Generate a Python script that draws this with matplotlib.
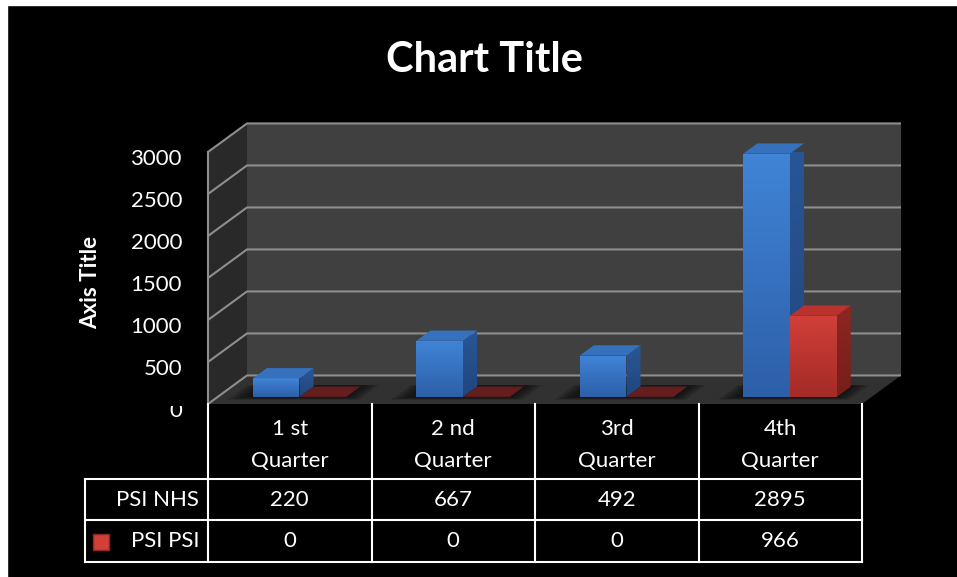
import numpy as np
import matplotlib.pyplot as plt
from matplotlib.colors import to_rgb
from matplotlib.patches import Polygon, Rectangle
from matplotlib.transforms import Bbox, TransformedBbox

plt.rcParams['font.family'] = ['Lato', 'DejaVu Sans']

# data
quarters = [("1 st", "Quarter"), ("2 nd", "Quarter"), ("3rd", "Quarter"), ("4th", "Quarter")]
series_names = ["PSI NHS", "PSI PSI"]
psi_nhs = [220, 667, 492, 2895]
psi_psi = [0, 0, 0, 966]
y_ticks = [0, 500, 1000, 1500, 2000, 2500, 3000]

# face colours: (front top, front bottom, side top, side bottom, top)
BLUE = ('#4084d6', '#2d5fa9', '#2a5696', '#21467e', '#3571bd')
RED = ('#d13f39', '#a42b27', '#8e2622', '#761e1b', '#b9322d')
ZERO_RED = '#651e1e'

W, H = 957, 577
DX, DY = 0.2385, 340.0      # depth of the plot box (category units, value units)
Z0, Z1 = 0.25, 0.61         # depth slab taken by the columns
GAP = 1.5                   # gap width as a fraction of column width

fig = plt.figure(figsize=(W / 100, H / 100), dpi=100, facecolor='black')
fig.patches.append(Rectangle((0, 0), 7 / W, 1, transform=fig.transFigure, color='white', zorder=-5))
fig.patches.append(Rectangle((0, 1 - 5 / H), 1, 5 / H, transform=fig.transFigure, color='white', zorder=-5))

ax = fig.add_axes([208 / W, (H - 404) / H, 654 / W, 252 / H])
ax.set_xlim(0, 4)
ax.set_ylim(0, 3000)
ax.axis('off')


def proj(x, v, z):
    return (x + z * DX, v + z * DY)


def face(pts, color, zorder, **kw):
    p = Polygon([proj(*q) for q in pts], closed=True, facecolor=color,
                edgecolor='none', zorder=zorder, clip_on=False, **kw)
    ax.add_patch(p)
    return p


def gradient_face(pts, c_top, c_bot, zorder):
    p = face(pts, 'none', zorder)
    xy = np.array([proj(*q) for q in pts])
    t = np.linspace(0, 1, 64)[:, None, None]
    c1, c2 = np.array(to_rgb(c_top)), np.array(to_rgb(c_bot))
    img = (c1 + (c2 - c1) * t) * np.ones((1, 2, 1))
    im = ax.imshow(img, extent=(xy[:, 0].min(), xy[:, 0].max(), xy[:, 1].min(), xy[:, 1].max()),
                   origin='upper', aspect='auto', zorder=zorder)
    im.set_clip_path(p)


# walls and floor
face([(0, 0, 1), (4, 0, 1), (4, 3000, 1), (0, 3000, 1)], '#404040', 0)
face([(0, 0, 0), (0, 0, 1), (0, 3000, 1), (0, 3000, 0)], '#292929', 0)
face([(0, 0, 0), (4, 0, 0), (4, 0, 1), (0, 0, 1)], '#313131', 0)

for v in y_ticks:
    xs, ys = zip(proj(0, v, 0), proj(0, v, 1), proj(4, v, 1))
    ax.plot(xs, ys, color='#8e8e8e', lw=1.5, zorder=1, clip_on=False, solid_capstyle='butt')
ax.plot(*zip(proj(0, 0, 0), proj(0, 3000, 0)), color='#8e8e8e', lw=1.5, zorder=1, clip_on=False)

# columns
bw = 1 / (2 + GAP)
z = 5
for i in range(len(quarters)):
    gx0 = i + bw * GAP / 2
    # soft shadow on the floor
    for k in range(4, 0, -1):
        e = 0.025 * k
        face([(gx0 - e - 0.03, 0, Z0 - 0.1 * k / 4), (gx0 + 2 * bw + e, 0, Z0 - 0.1 * k / 4),
              (gx0 + 2 * bw + e, 0, Z1 + 0.05), (gx0 - e - 0.03, 0, Z1 + 0.05)],
             'black', 2, alpha=0.18)
    for s, (vals, cols) in enumerate([(psi_nhs, BLUE), (psi_psi, RED)]):
        v = vals[i]
        x0, x1 = gx0 + s * bw, gx0 + (s + 1) * bw
        if v == 0:
            face([(x0, 0, Z0), (x1, 0, Z0), (x1, 0, Z1), (x0, 0, Z1)], ZERO_RED, z)
            z += 1
            continue
        gradient_face([(x0, 0, Z0), (x1, 0, Z0), (x1, v, Z0), (x0, v, Z0)], cols[0], cols[1], z)
        gradient_face([(x1, 0, Z0), (x1, 0, Z1), (x1, v, Z1), (x1, v, Z0)], cols[2], cols[3], z)
        face([(x0, v, Z0), (x1, v, Z0), (x1, v, Z1), (x0, v, Z1)], cols[4], z)
        z += 1

# value axis labels
zero_clip = TransformedBbox(Bbox([[0, 0], [1, (H - 406) / H]]), fig.transFigure)
for v in y_ticks:
    t = ax.annotate(str(v), xy=(0, v), xytext=(-26, -7), textcoords='offset pixels',
                    ha='right', va='center', color='white', fontsize=16, annotation_clip=False)
    if v == 0:
        t.set_clip_on(True)
        t.set_clip_box(zero_clip)

fig.text(485 / W, 1 - 60 / H, "Chart Title", ha='center', va='center', color='white',
         fontsize=30, fontweight='bold')
fig.text(91 / W, 1 - 282 / H, "Axis Title", ha='center', va='center', color='white',
         fontsize=16, fontweight='bold', rotation=90)

# data table
tab = fig.add_axes([208 / W, (H - 562) / H, 654 / W, 158 / H])
tab.set_xlim(0, 4)
tab.set_ylim(3.8, 0)
tab.axis('off')
left = -0.753
lk = dict(color='white', lw=1.5, clip_on=False, solid_capstyle='projecting')
for c in range(len(quarters) + 1):
    tab.plot([c, c], [0, 3.8], **lk)
tab.plot([left, left], [1.8, 3.8], **lk)
for r in [1.8, 2.8, 3.8]:
    tab.plot([left, 4], [r, r], **lk)

txt = dict(color='white', fontsize=16, va='center', clip_on=False)
for i, (a, b) in enumerate(quarters):
    tab.text(i + 0.5, 0.6, a, ha='center', **txt)
    tab.text(i + 0.5, 1.37, b, ha='center', **txt)
    tab.text(i + 0.5, 2.3, str(psi_nhs[i]), ha='center', **txt)
    tab.text(i + 0.5, 3.3, str(psi_psi[i]), ha='center', **txt)
tab.text(-0.055, 2.3, series_names[0], ha='right', **txt)
tab.text(-0.055, 3.3, series_names[1], ha='right', **txt)
tab.plot([-0.655], [3.32], marker='s', markersize=11, color=RED[0], markeredgecolor=RED[2],
         clip_on=False)

fig.savefig('out.png', dpi=100, facecolor=fig.get_facecolor())
